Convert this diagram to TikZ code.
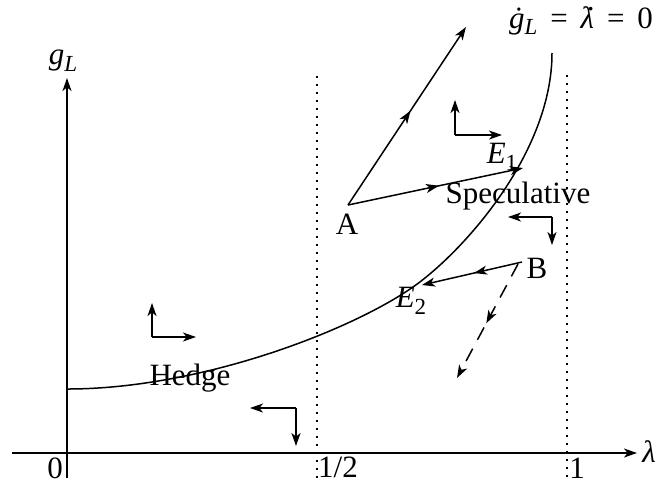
\documentclass[tikz,border=0pt]{standalone}
\usepackage{fontspec}
\setmainfont{Liberation Serif}
\usetikzlibrary{arrows.meta,decorations.markings}
\tikzset{
  ln/.style={line width=0.75pt},
  tipstyle/.tip={Stealth[length=6.5pt,width=4.5pt,inset=1.8pt]},
  arr/.style={ln,-tipstyle},
  midarr/.style={postaction={decorate},decoration={markings,mark=at position #1 with {\arrow{tipstyle}}}},
  dotline/.style={line width=0.8pt,dash pattern=on 0.8pt off 3.2pt},
  dashline/.style={ln,dash pattern=on 7pt off 5pt},
  lbl/.style={inner sep=0pt,font=\fontsize{15.5}{18}\selectfont},
}
\newcommand\dotlam{\rlap{\hspace{0.2em}\smash{\raisebox{0.56em}{.}}}\textit{λ}}
\newcommand\subL{\raisebox{-0.22em}{\fontsize{11.5}{12}\selectfont\textit{L}}}
\begin{document}
\begin{tikzpicture}[x=0.5pt,y=-0.5pt]
\useasboundingbox (0,0) rectangle (658,484);
% axes
\coordinate (xs) at (12,453);
\coordinate (xe) at (637,453);
\coordinate (ys) at (67,478);
\coordinate (ye) at (67,78);
\draw[arr] (xs) -- (xe);
\draw[arr] (ys) -- (ye);
\node[lbl] (lam) at (649,452) {\textit{λ}};
\node[lbl] (gl) at (63,61) {\textit{g}\subL};
\node[lbl] (zero) at (55,468) {0};
\node[lbl] (half) at (338,467) {1/2};
\node[lbl] (one) at (577,468) {1};
% dotted verticals
\coordinate (h1) at (317,76);
\coordinate (h2) at (317,478);
\coordinate (o1) at (567,75);
\coordinate (o2) at (567,477);
\draw[dotline] (h1) -- (h2);
\draw[dotline] (o1) -- (o2);
% isocline
\coordinate (c0) at (67,389);
\coordinate (E2) at (413,287);
\coordinate (ctop) at (552,53);
\draw[ln] (c0) .. controls (200,389) and (350,331) .. (E2)
  .. controls (463,252) and (552,153) .. (ctop);
\node[lbl,anchor=base] (top) at (581,28) {\textit{ġ}\subL\ \,=\ \,\dotlam\ \,=\ \,0};
% points
\coordinate (A) at (348,205);
\coordinate (B) at (522,262);
\coordinate (E1) at (523,168);
\coordinate (U) at (466,27);
\coordinate (E2t) at (422,285);
\coordinate (Bd) at (518,264);
\coordinate (D) at (457,378);
\draw[arr,midarr=0.53] (A) -- (U);
\draw[arr,midarr=0.52] (A) -- (E1);
\draw[arr,midarr=0.48] (B) -- (E2t);
\draw[dashline,-tipstyle,midarr=0.52] (Bd) -- (D);
\node[lbl] (Alab) at (347,224) {A};
\node[lbl] (Blab) at (537,268) {B};
\node[lbl] (E1lab) at (502,157) {\textit{E}\raisebox{-0.22em}{\fontsize{11.5}{12}\selectfont 1}};
\node[lbl] (E2lab) at (411,301) {\textit{E}\raisebox{-0.22em}{\fontsize{11.5}{12}\selectfont 2}};
\node[lbl] (spec) at (518,196) {Speculative};
\node[lbl] (hedge) at (190,378) {Hedge};
% direction crosses
\coordinate (k1) at (455,135);
\coordinate (k1u) at (455,100);
\coordinate (k1r) at (502,135);
\draw[arr] (k1) -- (k1u);
\draw[arr] (k1) -- (k1r);
\coordinate (k2) at (552,217);
\coordinate (k2l) at (508,217);
\coordinate (k2d) at (552,245);
\draw[arr] (k2) -- (k2l);
\draw[arr] (k2) -- (k2d);
\coordinate (k3) at (152,337);
\coordinate (k3u) at (152,303);
\coordinate (k3r) at (196,337);
\draw[arr] (k3) -- (k3u);
\draw[arr] (k3) -- (k3r);
\coordinate (k4) at (296,408);
\coordinate (k4l) at (250,408);
\coordinate (k4d) at (296,446);
\draw[arr] (k4) -- (k4l);
\draw[arr] (k4) -- (k4d);
\end{tikzpicture}
\end{document}
